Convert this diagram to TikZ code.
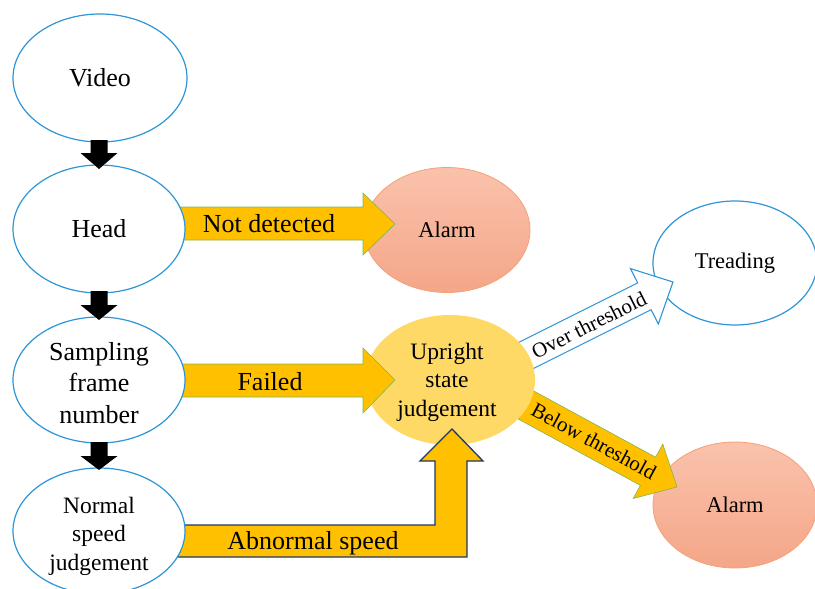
\documentclass[tikz,border=0pt]{standalone}
\usepackage{fontspec}
\setmainfont{Liberation Serif}
\usetikzlibrary{shapes.geometric}
\definecolor{eblue}{RGB}{45,150,215}
\definecolor{alarmtop}{RGB}{250,194,172}
\definecolor{alarmbot}{RGB}{244,166,136}
\definecolor{alarmline}{RGB}{245,160,120}
\definecolor{gold}{RGB}{255,192,0}
\definecolor{lightgold}{RGB}{255,217,102}
\definecolor{agreen}{RGB}{130,180,80}
\definecolor{navy}{RGB}{31,56,100}
\begin{document}
\begin{tikzpicture}[x=1pt,y=-1pt,
  ell/.style={ellipse, inner sep=0pt, align=center},
  wball/.style={ell, draw=eblue, line width=1.2pt, fill=white},
  alarmball/.style={ell, draw=alarmline, line width=0.8pt, top color=alarmtop, bottom color=alarmbot},
  goldarrow/.style={fill=gold, draw=agreen, line width=0.6pt},
  navyarrow/.style={fill=gold, draw=navy, line width=1.3pt, line join=miter},
  hollowarrow/.style={fill=white, draw=eblue, line width=1.1pt, line join=miter},
  blackarrow/.style={fill=black, draw=none},
  big/.style={font=\fontsize{26}{31.5}\selectfont},
  mid/.style={font=\fontsize{23.5}{28.5}\selectfont},
  small/.style={font=\fontsize{22.5}{27}\selectfont},
  lbl/.style={font=\fontsize{21}{25}\selectfont, inner sep=0pt},
  txt/.style={inner sep=0pt, align=center}
]
\useasboundingbox (0,0) rectangle (815,589);

% right-hand targets
\node[wball, small, minimum width=164pt, minimum height=124pt] (tread) at (735,263) {Treading};
\node[alarmball, small, minimum width=164pt, minimum height=126pt] (alarmb) at (735,505) {Alarm};
\node[alarmball, small, minimum width=166pt, minimum height=125pt] (alarma) at (447,230) {Alarm};

% outgoing arrows of the upright judgement
\draw[hollowarrow] (518.3,342.6) -- (637.7,282.9) -- (630.5,268.6) -- (673,282)
  -- (658.3,324) -- (651.1,309.7) -- (531.7,369.4) -- cycle;
\node[lbl, rotate=26.6] (over) at (589,325) {Over threshold};
\draw[goldarrow] (533.6,390.9) -- (655.6,457.2) -- (662.8,444.1) -- (677,487)
  -- (633.2,498.5) -- (640.4,485.4) -- (518.4,419.1) -- cycle;
\node[lbl, rotate=-28.5] (below) at (594,441) {Below threshold};

% upright judgement
\node[ell, fill=lightgold, minimum width=170pt, minimum height=130pt] (upright) at (450,380) {};
\node[txt, mid] (uprighttext) at (447,382) {Upright\\state\\judgement};

% incoming arrows
\draw[goldarrow] (175,207) -- (363,207) -- (363,193) -- (395,224) -- (363,255) -- (363,240) -- (175,240) -- cycle;
\node[big, anchor=base, inner sep=0pt] (notdet) at (269,232) {Not detected};
\draw[goldarrow] (175,364) -- (363,364) -- (363,348) -- (395,380) -- (363,413) -- (363,397) -- (175,397) -- cycle;
\node[big, anchor=base, inner sep=0pt] (failed) at (270,390) {Failed};
\draw[navyarrow] (175,525) -- (435,525) -- (435,461) -- (420,461) -- (452,429) -- (483,461)
  -- (467,461) -- (467,557) -- (175,557) -- cycle;
\node[big, anchor=base, inner sep=0pt] (abn) at (313,549) {Abnormal speed};

% left column
\node[wball, big, minimum width=174pt, minimum height=128pt] (video) at (100,78) {Video};
\node[wball, big, minimum width=172pt, minimum height=128pt] (head) at (99,229) {Head};
\node[wball, minimum width=172pt, minimum height=126pt] (samp) at (99,380) {};
\node[txt, big] (samptext) at (99,383) {Sampling\\frame\\number};
\node[wball, minimum width=172pt, minimum height=126pt] (norm) at (99,531) {};
\node[txt, mid] (normtext) at (99,536) {Normal\\speed\\judgement};

% black arrows
\draw[blackarrow] (90.5,140) -- (107.5,140) -- (107.5,153) -- (117.5,153) -- (99,169) -- (80.5,153) -- (90.5,153) -- cycle;
\draw[blackarrow] (90.5,291) -- (107.5,291) -- (107.5,305) -- (117.5,305) -- (99,320) -- (80.5,305) -- (90.5,305) -- cycle;
\draw[blackarrow] (90.5,442) -- (107.5,442) -- (107.5,456) -- (117.5,456) -- (99,470) -- (80.5,456) -- (90.5,456) -- cycle;
\end{tikzpicture}
\end{document}
